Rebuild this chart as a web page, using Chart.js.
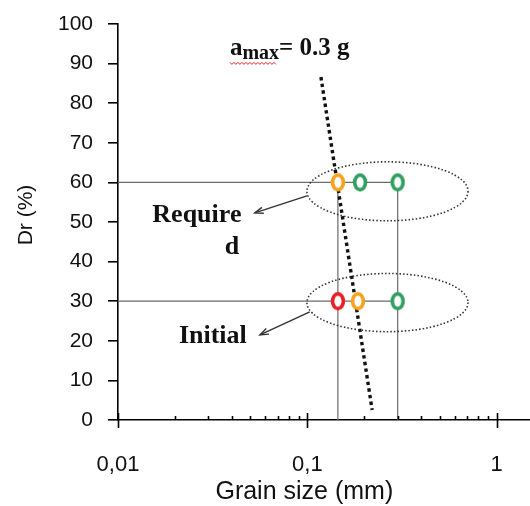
<!DOCTYPE html>
<html>
<head>
<meta charset="utf-8">
<script src="https://cdn.jsdelivr.net/npm/chart.js@4/dist/chart.umd.min.js"></script>
<style>
  html, body { margin: 0; padding: 0; background: #fff; overflow: hidden; }
  #wrap { width: 530px; height: 506px; }
</style>
</head>
<body>
<div id="wrap"><canvas id="grainChart"></canvas></div>
<script>
// grain size (mm) vs relative density Dr (%)
const sizeDecades = [0.01, 0.1, 1];
const sizeDecadeLabels = ['0,01', '0,1', '1'];
const drTicks = [0, 10, 20, 30, 40, 50, 60, 70, 80, 90, 100];

const redSize = [0.145];
const redDr = [30];
const orangeSize = [0.185, 0.145];
const orangeDr = [30, 60];
const greenSize = [0.3, 0.19, 0.3];
const greenDr = [30, 60, 60];

// a_max = 0.3 g limit line
const amaxSize = [0.118, 0.22];
const amaxDr = [86.6, 2.5];

// thin reference lines
const guideDr = [30, 60];
const guideSize = [0.145, 0.3];

const SERIF = '"Liberation Serif", "Times New Roman", serif';
const SANS = '"Liberation Sans", Arial, sans-serif';

function pts(xs, ys) {
  return xs.map((x, i) => ({ x: x, y: ys[i] }));
}

// open ring marker, a bit taller than wide
function ring(color) {
  const c = document.createElement('canvas');
  c.width = 18;
  c.height = 22;
  const g = c.getContext('2d');
  g.fillStyle = '#fff';
  g.strokeStyle = color;
  g.lineWidth = 3.6;
  g.beginPath();
  g.ellipse(9, 11, 5.4, 7.4, 0, 0, Math.PI * 2);
  g.fill();
  g.stroke();
  return c;
}

function markerSet(xs, ys, color) {
  return {
    type: 'scatter',
    data: pts(xs, ys),
    pointStyle: ring(color),
    pointRadius: 9,
    showLine: false,
    order: 0
  };
}

function guideSet(data) {
  return {
    type: 'line',
    data: data,
    borderColor: '#6b6b6b',
    borderWidth: 1.2,
    pointRadius: 0,
    fill: false,
    order: 5
  };
}

const datasets = [
  markerSet(redSize, redDr, '#ec1c24'),
  markerSet(orangeSize, orangeDr, '#f7a21b'),
  markerSet(greenSize, greenDr, '#2f9e5f'),
  {
    type: 'line',
    data: pts(amaxSize, amaxDr),
    borderColor: '#111',
    borderWidth: 3.4,
    borderDash: [3.4, 3.3],
    borderCapStyle: 'butt',
    pointRadius: 0,
    fill: false,
    order: 2
  }
];
guideDr.forEach(d => datasets.push(guideSet([{ x: sizeDecades[0], y: d }, { x: guideSize[1], y: d }])));
guideSize.forEach(s => datasets.push(guideSet([{ x: s, y: 0 }, { x: s, y: guideDr[1] }])));

// callouts placed in data units
const callouts = {
  ellipses: [
    { x0: 0.0995, x1: 0.706, y0: 50.3, y1: 65.2 },
    { x0: 0.0995, x1: 0.706, y0: 22.3, y1: 37.0 }
  ],
  arrows: [
    { from: [0.0995, 56.6], to: [0.0528, 52.3] },
    { from: [0.103, 27.3], to: [0.0562, 21.5] }
  ],
  labels: [
    { text: 'Require', x: 0.0261, y: 51.8 },
    { text: 'd', x: 0.040, y: 43.7 },
    { text: 'Initial', x: 0.0317, y: 21.2 }
  ],
  amax: { x: 0.039, y: 92.2 }
};

const calloutPlugin = {
  id: 'callouts',
  afterDatasetsDraw(chart) {
    const ctx = chart.ctx;
    const xs = chart.scales.x, ys = chart.scales.y;
    const px = v => xs.getPixelForValue(v);
    const py = v => ys.getPixelForValue(v);
    ctx.save();

    // dotted ellipses round each density level
    ctx.strokeStyle = '#333';
    ctx.lineWidth = 1.6;
    ctx.setLineDash([1.5, 2.1]);
    callouts.ellipses.forEach(e => {
      const l = px(e.x0), r = px(e.x1), t = py(e.y1), b = py(e.y0);
      ctx.beginPath();
      ctx.ellipse((l + r) / 2, (t + b) / 2, (r - l) / 2, (b - t) / 2, 0, 0, Math.PI * 2);
      ctx.stroke();
    });
    ctx.setLineDash([]);

    // arrows from the ellipses to their labels
    ctx.strokeStyle = '#333';
    ctx.lineWidth = 1.4;
    callouts.arrows.forEach(a => {
      const x0 = px(a.from[0]), y0 = py(a.from[1]);
      const x1 = px(a.to[0]), y1 = py(a.to[1]);
      const ang = Math.atan2(y1 - y0, x1 - x0);
      ctx.beginPath();
      ctx.moveTo(x0, y0);
      ctx.lineTo(x1, y1);
      ctx.stroke();
      ctx.beginPath();
      ctx.moveTo(x1 - 9 * Math.cos(ang - 0.35), y1 - 9 * Math.sin(ang - 0.35));
      ctx.lineTo(x1, y1);
      ctx.lineTo(x1 - 9 * Math.cos(ang + 0.35), y1 - 9 * Math.sin(ang + 0.35));
      ctx.stroke();
    });

    // bold serif labels
    ctx.fillStyle = '#111';
    ctx.font = 'bold 26px ' + SERIF;
    ctx.textAlign = 'center';
    ctx.textBaseline = 'middle';
    callouts.labels.forEach(t => ctx.fillText(t.text, px(t.x), py(t.y)));

    // a_max = 0.3 g
    const x0 = px(callouts.amax.x);
    const y = py(callouts.amax.y);
    let x = x0;
    ctx.textAlign = 'left';
    ctx.textBaseline = 'alphabetic';
    ctx.font = 'bold 25px ' + SERIF;
    ctx.fillText('a', x, y);
    x += ctx.measureText('a').width;
    ctx.font = 'bold 20px ' + SERIF;
    ctx.fillText('max', x, y + 4);
    x += ctx.measureText('max').width;
    ctx.font = 'bold 25px ' + SERIF;
    ctx.fillText('= 0.3 g', x, y);

    // wavy spell-check underline
    ctx.strokeStyle = '#e0201c';
    ctx.lineWidth = 1;
    ctx.beginPath();
    for (let i = 0; x0 + i * 2 <= x - 2; i++) {
      const wx = x0 + i * 2;
      const wy = y + 8 + (i % 2 ? 1.5 : -0.5);
      if (i === 0) ctx.moveTo(wx, wy); else ctx.lineTo(wx, wy);
    }
    ctx.stroke();
    ctx.restore();
  }
};

// log-axis tick marks: long crossing ticks at decades, short ones between,
// plus both axis titles
const axisDecorPlugin = {
  id: 'axisDecor',
  afterDraw(chart) {
    const ctx = chart.ctx;
    const xs = chart.scales.x;
    const area = chart.chartArea;
    const y0 = area.bottom;
    ctx.save();
    ctx.strokeStyle = '#000';
    ctx.lineWidth = 1.6;
    xs.ticks.forEach(t => {
      const v = t.value;
      const m = v / Math.pow(10, Math.floor(Math.log10(v) + 1e-9));
      if (Math.abs(m - Math.round(m)) > 1e-6) return;
      const p = Math.round(xs.getPixelForValue(v)) + 0.5;
      ctx.beginPath();
      if (Math.round(m) === 1) {
        ctx.moveTo(p, y0 - 7);
        ctx.lineTo(p, y0 + 8);
      } else {
        ctx.moveTo(p, y0 - 4);
        ctx.lineTo(p, y0);
      }
      ctx.stroke();
    });

    ctx.fillStyle = '#111';
    ctx.textAlign = 'center';
    ctx.textBaseline = 'middle';
    ctx.font = '25px ' + SANS;
    ctx.fillText('Grain size (mm)', xs.getPixelForValue(sizeDecades[1]) - 3, xs.bottom - 14);

    ctx.font = '21px ' + SANS;
    ctx.translate(26, (area.top + area.bottom) / 2 - 7);
    ctx.rotate(-Math.PI / 2);
    ctx.fillText('Dr (%)', 0, 0);
    ctx.restore();
  }
};

new Chart(document.getElementById('grainChart'), {
  type: 'scatter',
  data: { datasets: datasets },
  plugins: [calloutPlugin, axisDecorPlugin],
  options: {
    responsive: true,
    maintainAspectRatio: false,
    animation: false,
    devicePixelRatio: 1,
    layout: { autoPadding: false, padding: { top: 24, right: 0, left: 0, bottom: 0 } },
    plugins: {
      legend: { display: false },
      tooltip: { enabled: false }
    },
    scales: {
      x: {
        type: 'logarithmic',
        min: 0.01,
        max: 1.5,
        afterFit: scale => {
          scale.height = 86;
          scale.paddingLeft = 0;
          scale.paddingRight = 0;
        },
        border: { display: true, color: '#000', width: 1.6 },
        grid: { display: false, drawTicks: false },
        ticks: {
          autoSkip: false,
          maxRotation: 0,
          padding: 32,
          color: '#111',
          font: { family: SANS, size: 22 },
          callback: function(v) {
            const i = sizeDecades.findIndex(d => Math.abs(d - v) < d * 1e-6);
            return i >= 0 ? sizeDecadeLabels[i] : '';
          }
        }
      },
      y: {
        min: 0,
        max: 100,
        afterFit: scale => {
          scale.width = 118;
          scale.paddingTop = 0;
          scale.paddingBottom = 0;
        },
        afterBuildTicks: scale => { scale.ticks = drTicks.map(v => ({ value: v })); },
        border: { display: true, color: '#000', width: 1.6 },
        grid: {
          drawOnChartArea: false,
          drawTicks: true,
          tickLength: 10,
          color: '#000',
          lineWidth: 1.6
        },
        ticks: {
          padding: 15,
          color: '#111',
          font: { family: SANS, size: 21 }
        }
      }
    }
  }
});
</script>
</body>
</html>
